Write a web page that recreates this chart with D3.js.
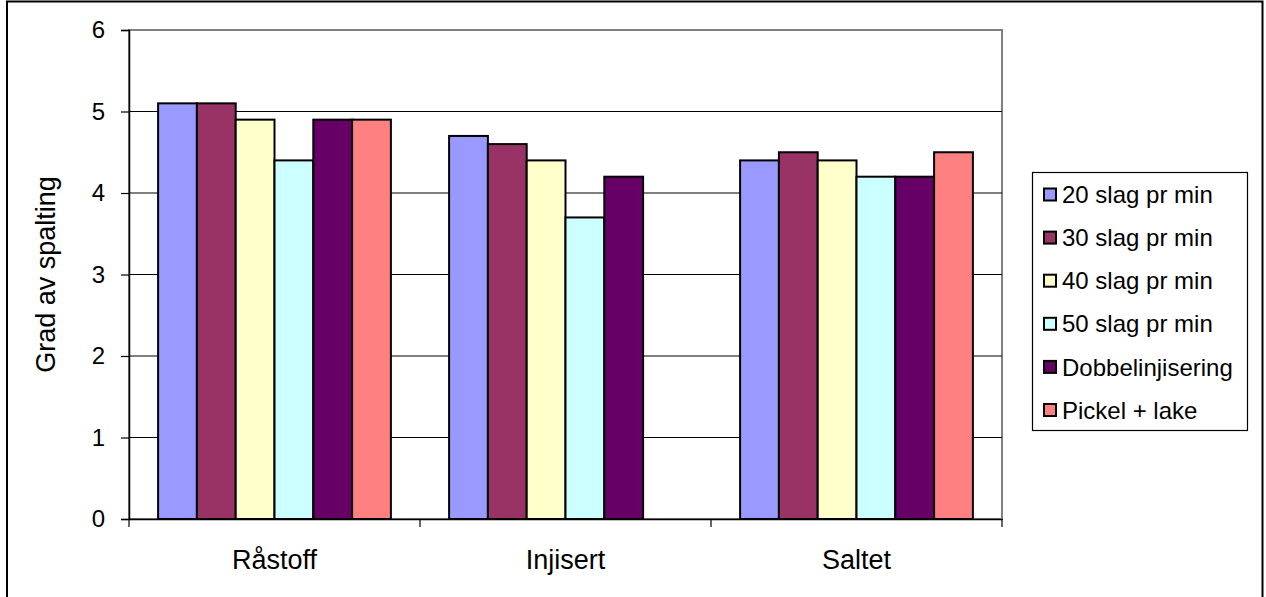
<!DOCTYPE html>
<html>
<head>
<meta charset="utf-8">
<script src="https://cdn.jsdelivr.net/npm/d3@7"></script>
<style>
  html, body { margin: 0; padding: 0; background: #fff; overflow: hidden; }
  svg { display: block; font-family: "Liberation Sans", Arial, sans-serif; }
</style>
</head>
<body>
<svg id="chart" width="1266" height="597"></svg>
<script>
const categories = ["Råstoff", "Injisert", "Saltet"];
const seriesNames = ["20 slag pr min", "30 slag pr min", "40 slag pr min", "50 slag pr min", "Dobbelinjisering", "Pickel + lake"];
const seriesColors = ["#9999FF", "#993366", "#FFFFCC", "#CCFFFF", "#660066", "#FF8080"];
const s20 = [5.1, 4.7, 4.4];
const s30 = [5.1, 4.6, 4.5];
const s40 = [4.9, 4.4, 4.4];
const s50 = [4.4, 3.7, 4.2];
const sDobbel = [4.9, 4.2, 4.2];
const sPickel = [4.9, null, 4.5];
const yTicks = [0, 1, 2, 3, 4, 5, 6];
const yTitle = "Grad av spalting";

const seriesValues = [s20, s30, s40, s50, sDobbel, sPickel];

const svg = d3.select("#chart");
const plot = { left: 129, right: 1002, top: 30, bottom: 519 };

// outer border (bottom edge lies outside the picture)
svg.append("rect").attr("x", 7).attr("y", 1.5).attr("width", 1255.5).attr("height", 600)
  .attr("fill", "#fff").attr("stroke", "#000").attr("stroke-width", 2);

const x0 = d3.scaleBand().domain(categories).range([plot.left, plot.right]).padding(0);
const x1 = d3.scaleBand().domain(seriesNames.map((d, i) => i))
  .range([x0.bandwidth() * 0.1, x0.bandwidth() * 0.9]).padding(0);
const y = d3.scaleLinear().domain([0, 6]).range([plot.bottom, plot.top]);

// plot area border (gray)
svg.append("rect").attr("x", plot.left).attr("y", plot.top)
  .attr("width", plot.right - plot.left).attr("height", plot.bottom - plot.top)
  .attr("fill", "#fff").attr("stroke", "#808080").attr("stroke-width", 2);

// grid lines
svg.append("g").selectAll("line").data(yTicks.filter(t => t > 0 && t < 6)).join("line")
  .attr("x1", plot.left).attr("x2", plot.right)
  .attr("y1", d => y(d)).attr("y2", d => y(d))
  .attr("stroke", "#000").attr("stroke-width", 1);

// bars
const groups = svg.append("g").selectAll("g").data(categories).join("g")
  .attr("transform", d => `translate(${x0(d)},0)`);
groups.selectAll("rect")
  .data((c, ci) => seriesValues.map((vals, si) => ({ si, v: vals[ci] })).filter(d => d.v != null))
  .join("rect")
  .attr("x", d => x1(d.si))
  .attr("width", x1.bandwidth())
  .attr("y", d => y(d.v))
  .attr("height", d => y(0) - y(d.v))
  .attr("fill", d => seriesColors[d.si])
  .attr("stroke", "#000").attr("stroke-width", 2);

// y axis
const yAxis = d3.axisLeft(y).tickValues(yTicks).tickSize(8).tickPadding(16).tickFormat(d3.format("d"));
const gy = svg.append("g").attr("transform", `translate(${plot.left},0)`).call(yAxis);
gy.attr("font-size", null).attr("font-family", null);
gy.select(".domain").attr("stroke", "#000").attr("stroke-width", 1.5);
gy.selectAll(".tick line").attr("stroke", "#000").attr("stroke-width", 1.2);
gy.selectAll(".tick text").style("font-size", "24px").attr("fill", "#000")
  .style("font-family", "'Liberation Sans', Arial, sans-serif");

// x axis
const xAxis = d3.axisBottom(x0).tickSize(0).tickPadding(0).tickFormat(() => "");
const gx = svg.append("g").attr("transform", `translate(0,${plot.bottom})`).call(xAxis);
gx.select(".domain").attr("stroke", "#000").attr("stroke-width", 1.5);
const boundaries = categories.map(c => x0(c)).concat([x0(categories[categories.length - 1]) + x0.bandwidth()]);
gx.selectAll(".bound").data(boundaries).join("line").attr("class", "bound")
  .attr("x1", d => d).attr("x2", d => d).attr("y1", 0).attr("y2", 8)
  .attr("stroke", "#000").attr("stroke-width", 1.2);
svg.append("g").selectAll("text").data(categories).join("text")
  .attr("x", d => x0(d) + x0.bandwidth() / 2).attr("y", 569)
  .attr("text-anchor", "middle").style("font-size", "27px").attr("fill", "#000")
  .text(d => d);

// y title
svg.append("text")
  .attr("transform", `translate(55,${(plot.top + plot.bottom) / 2}) rotate(-90)`)
  .attr("text-anchor", "middle").style("font-size", "27px").attr("fill", "#000")
  .text(yTitle);

// legend
const lg = svg.append("g");
lg.append("rect").attr("x", 1032.5).attr("y", 172.5).attr("width", 215).attr("height", 258)
  .attr("fill", "#fff").attr("stroke", "#000").attr("stroke-width", 1.2);
const items = lg.selectAll("g.item").data(seriesNames).join("g").attr("class", "item")
  .attr("transform", (d, i) => `translate(0,${194.5 + i * 43.1})`);
items.append("rect").attr("x", 1044).attr("y", -6).attr("width", 12).attr("height", 12)
  .attr("fill", (d, i) => seriesColors[i]).attr("stroke", "#000").attr("stroke-width", 2);
items.append("text").attr("x", 1062).attr("y", 0).attr("dy", "0.36em")
  .style("font-size", "24px").attr("fill", "#000").text(d => d);
</script>
</body>
</html>
